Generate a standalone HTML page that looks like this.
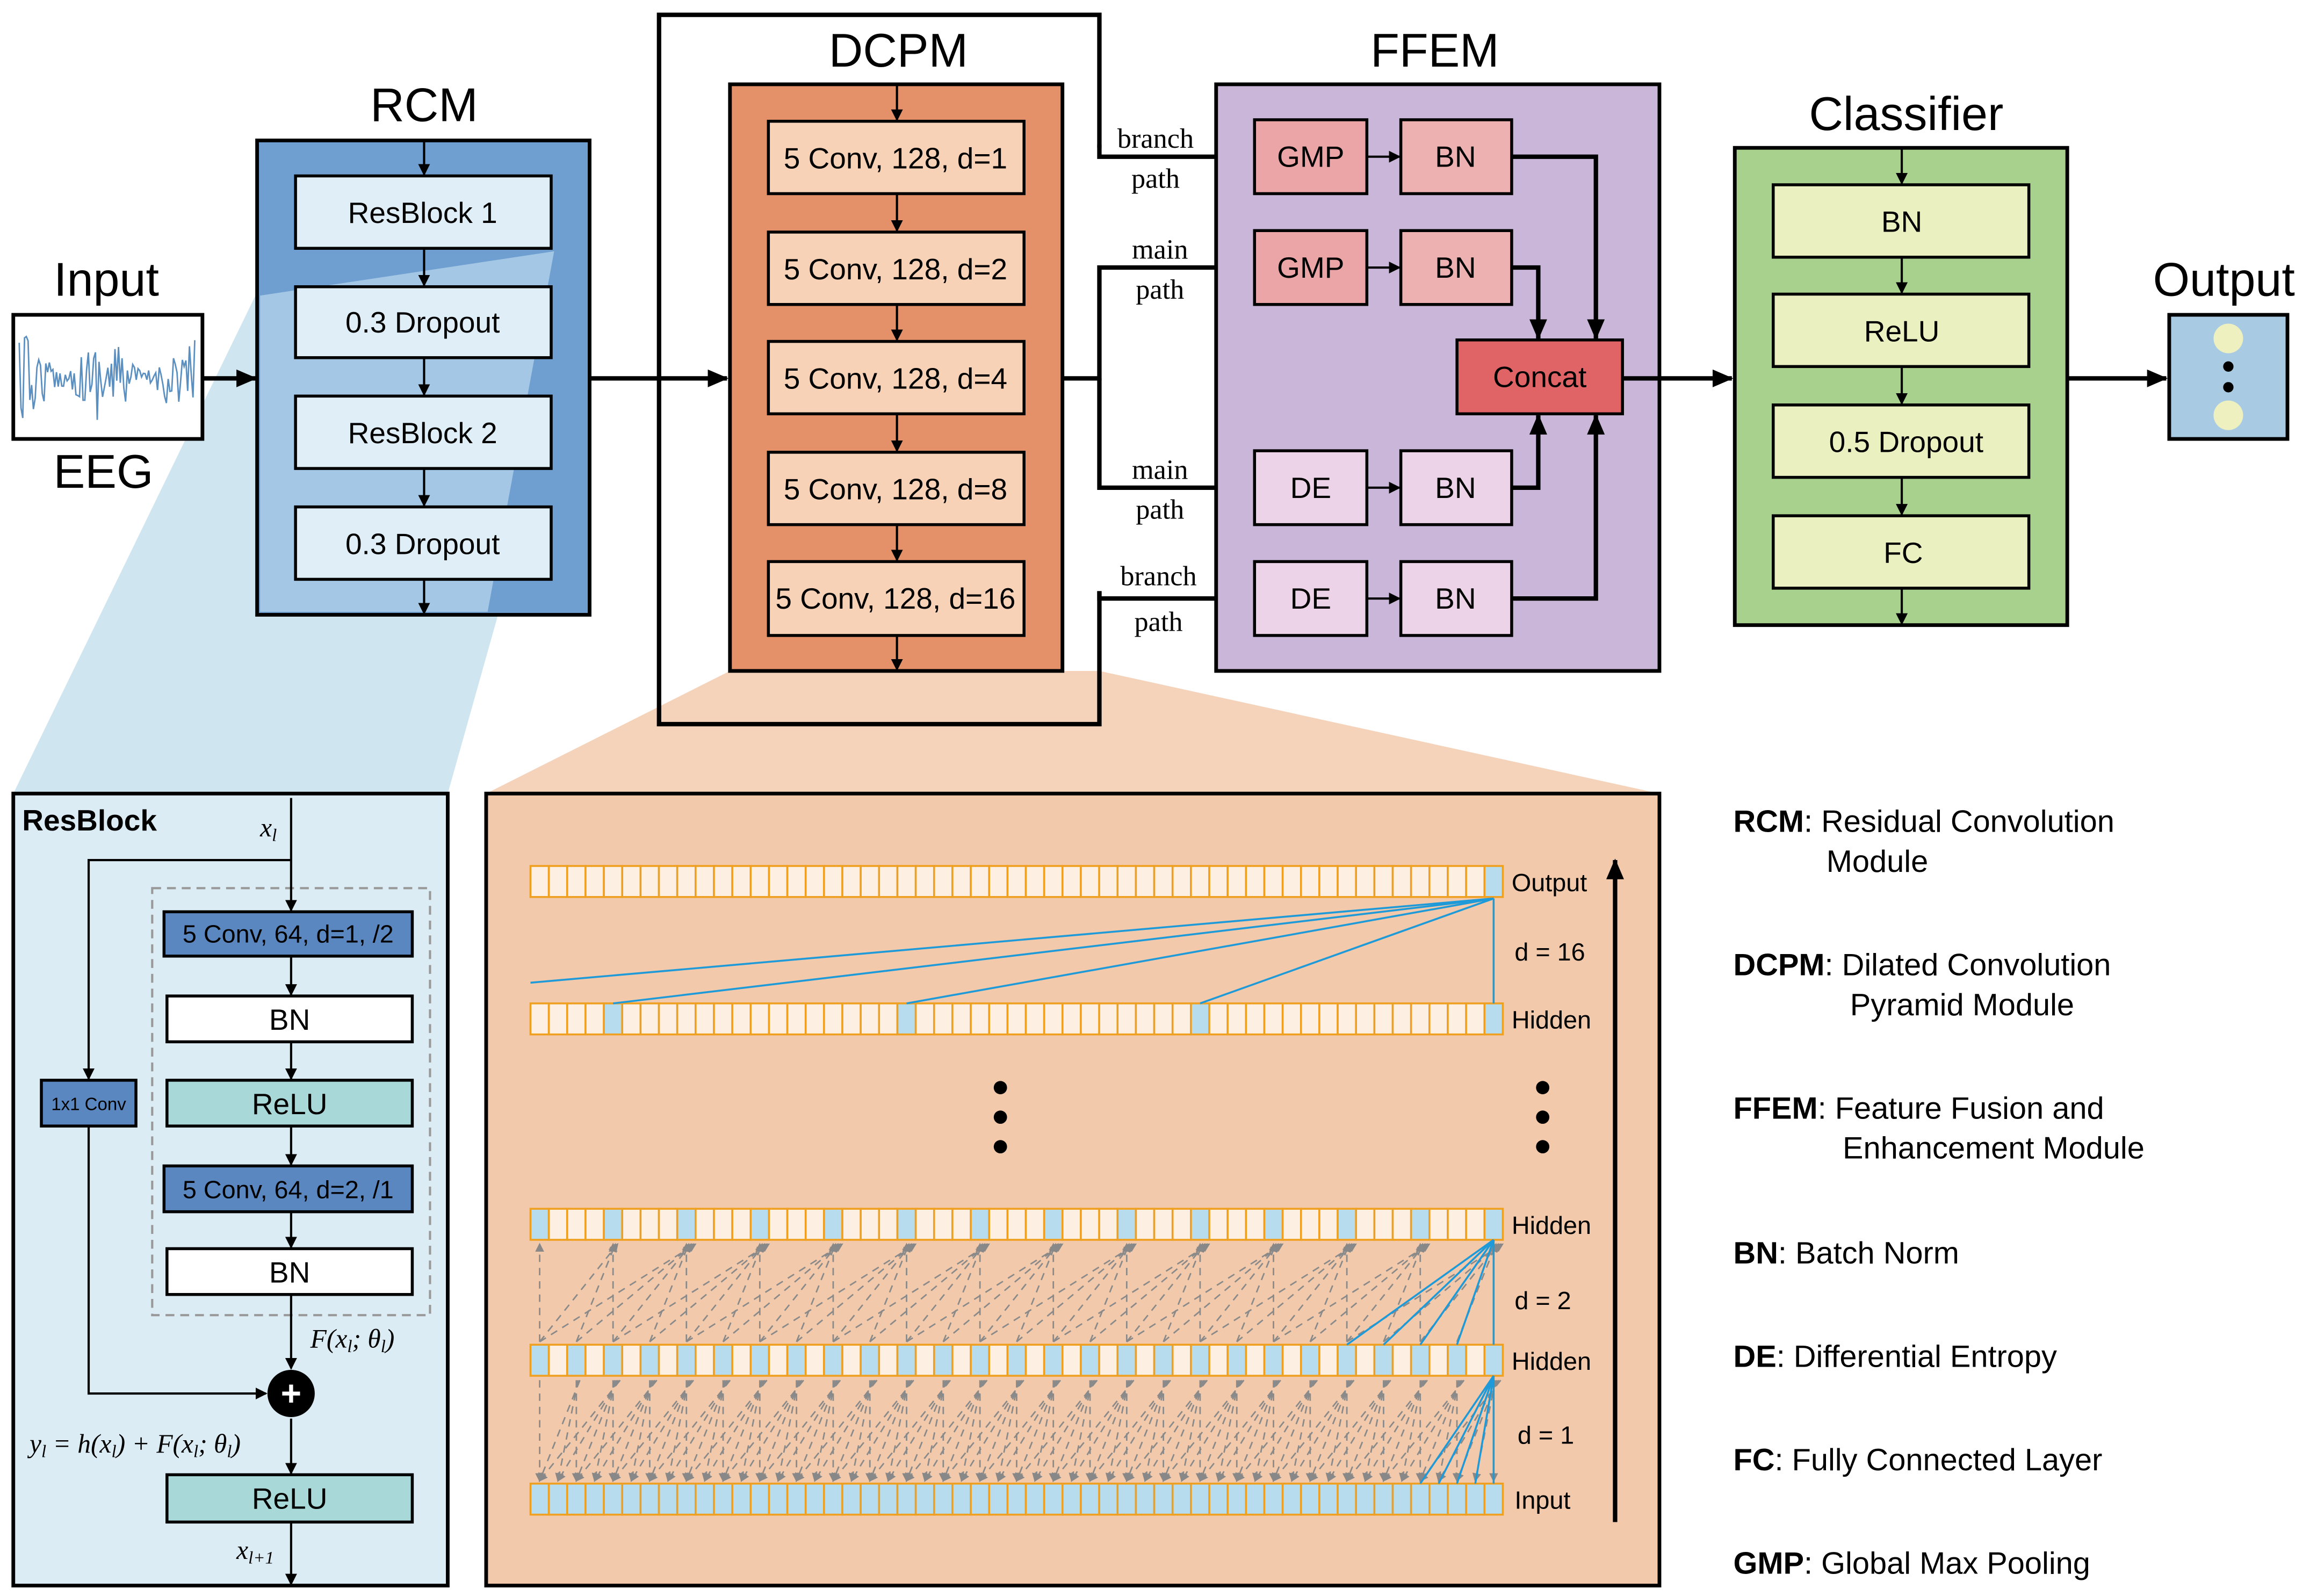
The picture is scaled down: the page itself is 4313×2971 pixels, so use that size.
<!DOCTYPE html>
<html><head><meta charset="utf-8"><style>
html,body{margin:0;padding:0;background:#fff}
svg{display:block}
text{font-family:"Liberation Sans",sans-serif}
.t{font-size:32px;text-anchor:middle}
.b{font-size:20px;text-anchor:middle;dominant-baseline:central}
.lg{font-size:21px}
.ser{font-family:"Liberation Serif",serif;font-style:italic;font-size:18px}
.sp{font-family:"Liberation Serif",serif;font-size:19px;text-anchor:middle}
</style></head><body>
<svg id="s" width="4313" height="2971" viewBox="0 0 1568 1080" xmlns="http://www.w3.org/2000/svg">
<defs>
<marker id="a" markerWidth="8" markerHeight="8" refX="7" refY="4" orient="auto" markerUnits="userSpaceOnUse"><path d="M0,0L8,4L0,8z" fill="#000"/></marker>
<marker id="A" markerWidth="14" markerHeight="12" refX="13" refY="6" orient="auto" markerUnits="userSpaceOnUse"><path d="M0,0L14,6L0,12z" fill="#000"/></marker>
<marker id="g" markerWidth="6" markerHeight="6" refX="5" refY="3" orient="auto" markerUnits="userSpaceOnUse"><path d="M0,0L6,3L0,6z" fill="#888"/></marker>
</defs>
<polygon points="185,175 395,210 303,537 9,537" fill="#cfe5f0"/>
<polygon points="494,454 744,454 1123,537 329,537" fill="#f4d3ba"/>
<text class="t" x="72" y="200">Input</text>
<rect x="9" y="213" width="128" height="84" fill="#fff" stroke="#000" stroke-width="2.5"/>
<polyline id="eeg" fill="none" stroke="#5a8fc0" stroke-width="1"/>
<text class="t" x="70" y="330">EEG</text>
<line x1="137" y1="256" x2="173" y2="256" stroke="#000" stroke-width="3" marker-end="url(#A)"/>
<text class="t" x="287" y="82">RCM</text>
<rect x="174" y="95" width="225" height="321" fill="#6f9fd0" stroke="#000" stroke-width="2.5"/>
<polygon points="176,200 176,414 330,414 375,170" fill="#a9cbe6" opacity="0.9"/>
<g stroke="#000" stroke-width="2" fill="#e0eef8">
<rect x="200" y="119" width="173" height="49"/><rect x="200" y="194" width="173" height="48"/>
<rect x="200" y="268" width="173" height="49"/><rect x="200" y="343" width="173" height="49"/></g>
<text class="b" x="286" y="144">ResBlock 1</text><text class="b" x="286" y="218">0.3 Dropout</text><text class="b" x="286" y="293">ResBlock 2</text><text class="b" x="286" y="368">0.3 Dropout</text>
<g stroke="#000" stroke-width="1.5" marker-end="url(#a)">
<line x1="287" y1="96" x2="287" y2="118"/><line x1="287" y1="168" x2="287" y2="193"/><line x1="287" y1="242" x2="287" y2="267"/><line x1="287" y1="317" x2="287" y2="342"/><line x1="287" y1="392" x2="287" y2="415"/></g>
<line x1="399" y1="256" x2="492" y2="256" stroke="#000" stroke-width="3" marker-end="url(#A)"/>
<text class="t" x="608" y="45">DCPM</text>
<polyline points="744,100 744,10 446,10 446,490 744,490 744,400" fill="none" stroke="#000" stroke-width="3"/>
<rect x="494" y="57" width="225" height="397" fill="#e4916a" stroke="#000" stroke-width="2.5"/>
<g stroke="#000" stroke-width="2" fill="#f7d2b6">
<rect x="520" y="82" width="173" height="49"/><rect x="520" y="157" width="173" height="49"/><rect x="520" y="231" width="173" height="49"/><rect x="520" y="306" width="173" height="49"/><rect x="520" y="380" width="173" height="50"/></g>
<text class="b" x="606" y="107">5 Conv, 128, d=1</text><text class="b" x="606" y="182">5 Conv, 128, d=2</text><text class="b" x="606" y="256">5 Conv, 128, d=4</text><text class="b" x="606" y="331">5 Conv, 128, d=8</text><text class="b" x="606" y="405">5 Conv, 128, d=16</text>
<g stroke="#000" stroke-width="1.5" marker-end="url(#a)">
<line x1="607" y1="58" x2="607" y2="81"/><line x1="607" y1="131" x2="607" y2="156"/><line x1="607" y1="206" x2="607" y2="230"/><line x1="607" y1="280" x2="607" y2="305"/><line x1="607" y1="355" x2="607" y2="379"/><line x1="607" y1="430" x2="607" y2="453"/></g>
<g fill="none" stroke="#000" stroke-width="3" marker-end="url(#A)">
<polyline points="744,98 744,106 848,106"/><polyline points="719,256 744,256 744,181 848,181"/><polyline points="744,256 744,330 848,330"/><polyline points="744,400 744,405 848,405"/></g>
<text class="sp" x="782" y="100">branch</text><text class="sp" x="782" y="127">path</text><text class="sp" x="785" y="175">main</text><text class="sp" x="785" y="202">path</text>
<text class="sp" x="785" y="324">main</text><text class="sp" x="785" y="351">path</text><text class="sp" x="784" y="396">branch</text><text class="sp" x="784" y="427">path</text>
<text class="t" x="971" y="45">FFEM</text>
<rect x="823" y="57" width="300" height="397" fill="#c9b6d9" stroke="#000" stroke-width="2.5"/>
<g stroke="#000" stroke-width="2">
<rect x="849" y="81" width="76" height="50" fill="#eba5a7"/><rect x="948" y="81" width="75" height="50" fill="#eeb1b1"/>
<rect x="849" y="156" width="76" height="50" fill="#eba5a7"/><rect x="948" y="156" width="75" height="50" fill="#eeb1b1"/>
<rect x="849" y="305" width="76" height="50" fill="#ecd3e8"/><rect x="948" y="305" width="75" height="50" fill="#ecd3e8"/>
<rect x="849" y="380" width="76" height="50" fill="#ecd3e8"/><rect x="948" y="380" width="75" height="50" fill="#ecd3e8"/>
<rect x="986" y="230" width="112" height="50" fill="#e06366"/></g>
<text class="b" x="887" y="106">GMP</text><text class="b" x="985" y="106">BN</text><text class="b" x="887" y="181">GMP</text><text class="b" x="985" y="181">BN</text>
<text class="b" x="887" y="330">DE</text><text class="b" x="985" y="330">BN</text><text class="b" x="887" y="405">DE</text><text class="b" x="985" y="405">BN</text>
<text class="b" x="1042" y="255">Concat</text>
<g stroke="#000" stroke-width="1.5" marker-end="url(#a)">
<line x1="925" y1="106" x2="947" y2="106"/><line x1="925" y1="181" x2="947" y2="181"/><line x1="925" y1="330" x2="947" y2="330"/><line x1="925" y1="405" x2="947" y2="405"/></g>
<g fill="none" stroke="#000" stroke-width="3" marker-end="url(#A)">
<polyline points="1023,106 1080,106 1080,229"/><polyline points="1023,181 1041,181 1041,229"/><polyline points="1023,330 1041,330 1041,281"/><polyline points="1023,405 1080,405 1080,281"/>
<line x1="1098" y1="256" x2="1172" y2="256"/></g>
<text class="t" x="1290" y="88">Classifier</text>
<rect x="1174" y="100" width="225" height="323" fill="#a9d18e" stroke="#000" stroke-width="2.5"/>
<g stroke="#000" stroke-width="2" fill="#eaf0c0">
<rect x="1200" y="125" width="173" height="49"/><rect x="1200" y="199" width="173" height="49"/><rect x="1200" y="274" width="173" height="49"/><rect x="1200" y="349" width="173" height="49"/></g>
<text class="b" x="1287" y="150">BN</text><text class="b" x="1287" y="224">ReLU</text><text class="b" x="1290" y="299">0.5 Dropout</text><text class="b" x="1288" y="374">FC</text>
<g stroke="#000" stroke-width="1.5" marker-end="url(#a)">
<line x1="1287" y1="101" x2="1287" y2="124"/><line x1="1287" y1="174" x2="1287" y2="198"/><line x1="1287" y1="248" x2="1287" y2="273"/><line x1="1287" y1="323" x2="1287" y2="348"/><line x1="1287" y1="398" x2="1287" y2="422"/></g>
<line x1="1399" y1="256" x2="1466" y2="256" stroke="#000" stroke-width="3" marker-end="url(#A)"/>
<text class="t" x="1505" y="200">Output</text>
<rect x="1468" y="213" width="80" height="84" fill="#a8cbe3" stroke="#000" stroke-width="2.5"/>
<circle cx="1508" cy="229" r="10" fill="#eef0c0"/><circle cx="1508" cy="281" r="10" fill="#eef0c0"/>
<circle cx="1508" cy="248" r="3.5"/><circle cx="1508" cy="262" r="3.5"/>
<rect x="9" y="537" width="294" height="536" fill="#dbecf4" stroke="#000" stroke-width="2.5"/>
<text x="15" y="562" font-size="20" font-weight="bold">ResBlock</text>
<text class="ser" x="176" y="566">x<tspan font-size="12" dy="3">l</tspan></text>
<rect x="103" y="601" width="188" height="289" fill="none" stroke="#999" stroke-width="1.5" stroke-dasharray="6,4"/>
<g stroke="#000" stroke-width="2">
<rect x="111" y="617" width="168" height="30" fill="#5b87c0"/><rect x="113" y="674" width="166" height="31" fill="#fff"/>
<rect x="113" y="731" width="166" height="31" fill="#a8d8d8"/><rect x="111" y="789" width="168" height="31" fill="#5b87c0"/>
<rect x="113" y="845" width="166" height="31" fill="#fff"/><rect x="28" y="731" width="64" height="31" fill="#5b87c0"/>
<rect x="113" y="998" width="166" height="32" fill="#a8d8d8"/></g>
<text class="b" x="195" y="632" style="font-size:17px">5 Conv, 64, d=1, /2</text><text class="b" x="196" y="690">BN</text><text class="b" x="196" y="747">ReLU</text>
<text class="b" x="195" y="805" style="font-size:17px">5 Conv, 64, d=2, /1</text><text class="b" x="196" y="861">BN</text><text class="b" x="60" y="747" style="font-size:12px">1x1 Conv</text>
<text class="b" x="196" y="1014">ReLU</text>
<g stroke="#000" stroke-width="1.5" fill="none" marker-end="url(#a)">
<line x1="197" y1="540" x2="197" y2="616"/><polyline points="197,582 60,582 60,730"/>
<line x1="197" y1="647" x2="197" y2="673"/><line x1="197" y1="705" x2="197" y2="730"/><line x1="197" y1="762" x2="197" y2="788"/><line x1="197" y1="820" x2="197" y2="844"/>
<line x1="197" y1="876" x2="197" y2="926"/><polyline points="60,762 60,943 180,943"/><line x1="197" y1="960" x2="197" y2="997"/><line x1="197" y1="1030" x2="197" y2="1072"/></g>
<circle cx="197" cy="943" r="16" fill="#000"/>
<text x="197" y="951" fill="#fff" font-size="24" font-weight="bold" text-anchor="middle">+</text>
<text class="ser" x="210" y="912">F(x<tspan font-size="12" dy="3">l</tspan><tspan dy="-3">; θ</tspan><tspan font-size="12" dy="3">l</tspan><tspan dy="-3">)</tspan></text>
<text class="ser" x="20" y="983">y<tspan font-size="12" dy="3">l</tspan><tspan dy="-3"> = h(x</tspan><tspan font-size="12" dy="3">l</tspan><tspan dy="-3">) + F(x</tspan><tspan font-size="12" dy="3">l</tspan><tspan dy="-3">; θ</tspan><tspan font-size="12" dy="3">l</tspan><tspan dy="-3">)</tspan></text>
<text class="ser" x="160" y="1055">x<tspan font-size="12" dy="3">l+1</tspan></text>
<rect x="329" y="537" width="794" height="536" fill="#f2c9aa" stroke="#000" stroke-width="2.5"/>
<g id="dil"></g>
<g font-size="17"><text x="1023" y="603">Output</text><text x="1025" y="650">d = 16</text><text x="1023" y="696">Hidden</text>
<text x="1023" y="835">Hidden</text><text x="1025" y="886">d = 2</text><text x="1023" y="927">Hidden</text><text x="1027" y="977">d = 1</text><text x="1025" y="1021">Input</text></g>
<line x1="1093" y1="1030" x2="1093" y2="582" stroke="#000" stroke-width="3" marker-end="url(#A)"/>
<g><circle cx="677" cy="736" r="4.5"/><circle cx="677" cy="756" r="4.5"/><circle cx="677" cy="776" r="4.5"/>
<circle cx="1044" cy="736" r="4.5"/><circle cx="1044" cy="756" r="4.5"/><circle cx="1044" cy="776" r="4.5"/></g>
<text class="lg" x="1173" y="563"><tspan font-weight="bold">RCM</tspan>: Residual Convolution</text><text class="lg" x="1236" y="590">Module</text>
<text class="lg" x="1173" y="660"><tspan font-weight="bold">DCPM</tspan>: Dilated Convolution</text><text class="lg" x="1252" y="687">Pyramid Module</text>
<text class="lg" x="1173" y="757"><tspan font-weight="bold">FFEM</tspan>: Feature Fusion and</text><text class="lg" x="1247" y="784">Enhancement Module</text>
<text class="lg" x="1173" y="855"><tspan font-weight="bold">BN</tspan>: Batch Norm</text>
<text class="lg" x="1173" y="925"><tspan font-weight="bold">DE</tspan>: Differential Entropy</text>
<text class="lg" x="1173" y="995"><tspan font-weight="bold">FC</tspan>: Fully Connected Layer</text>
<text class="lg" x="1173" y="1065"><tspan font-weight="bold">GMP</tspan>: Global Max Pooling</text>
</svg>
<script>
var NS="http://www.w3.org/2000/svg",g=document.getElementById("dil");
function el(n,a){var e=document.createElementNS(NS,n);for(var k in a)e.setAttribute(k,a[k]);g.appendChild(e);return e;}
var x0=359,w=658/53,N=53;function cx(i){return x0+(i+0.5)*w;}
for(var j=0;j<N;j+=4)for(var k=0;k<5;k++){var i=j-2*k;if(i<0)break;el("line",{x1:cx(i),y1:908,x2:cx(j)+k*1.5,y2:842,stroke:"#8a8a8a","stroke-width":1,"stroke-dasharray":"5,4","marker-end":"url(#g)"});}
for(var j=0;j<N;j+=2)for(var k=0;k<5;k++){var i=j-k;if(i<0)break;el("line",{x1:cx(j)+k*1.2,y1:934,x2:cx(i),y2:1002,stroke:"#8a8a8a","stroke-width":1,"stroke-dasharray":"5,4","marker-end":"url(#g)"});}
function row(y,blue){for(var i=0;i<N;i++)el("rect",{x:x0+i*w,y:y,width:w,height:21,fill:blue(i)?"#b6dced":"#fdf0e2",stroke:"#f0a020","stroke-width":1.3});}
row(586,function(i){return i==52});row(679,function(i){return i%16==4});row(818,function(i){return i%4==0});row(910,function(i){return i%2==0});row(1004,function(){return true});
var B="#1e9ad8";
[[359,665],[cx(4),679],[cx(20),679],[cx(36),679],[cx(52),679]].forEach(function(p){el("line",{x1:cx(52),y1:608,x2:p[0],y2:p[1],stroke:B,"stroke-width":1.3});});
for(var k=0;k<5;k++){el("line",{x1:cx(52),y1:839,x2:cx(52-2*k),y2:910,stroke:B,"stroke-width":1.3});el("line",{x1:cx(52),y1:931,x2:cx(52-k),y2:1004,stroke:B,"stroke-width":1.3});}
var pts=[],s=12345;function r(){s=(s*16807)%2147483647;return s/2147483647;}
for(var x=13;x<=133;x+=1.2){var y=256+(r()-0.5)*60*(0.6+0.4*Math.sin(x/9));pts.push(x.toFixed(1)+","+Math.max(218,Math.min(293,y)).toFixed(1));}
document.getElementById("eeg").setAttribute("points",pts.join(" "));
</script>
</body></html>
